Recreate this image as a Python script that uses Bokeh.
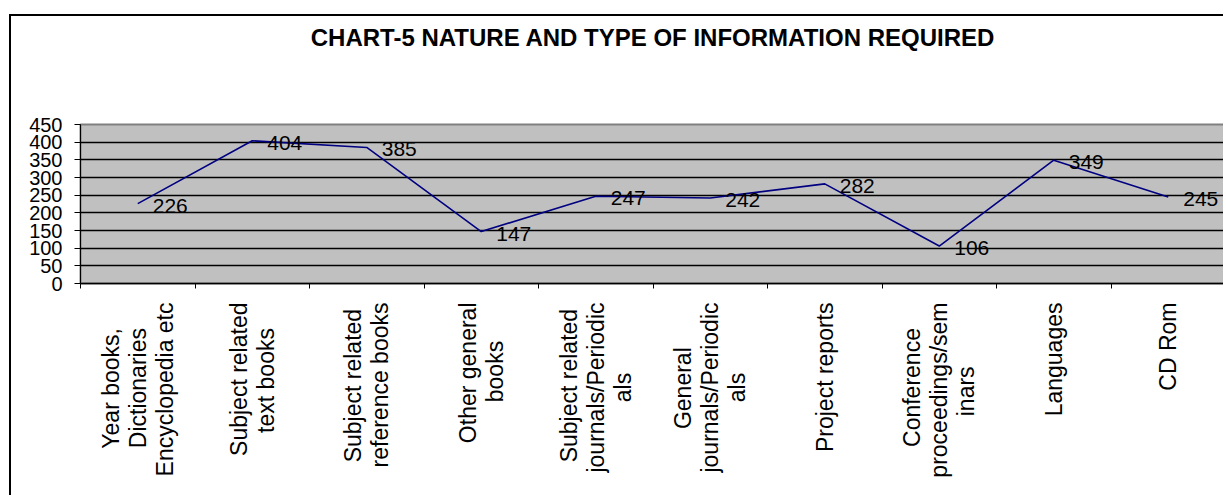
import math
from bokeh.plotting import figure
from bokeh.models import Range1d, FixedTicker, ColumnDataSource, LinearAxis
from bokeh.core.properties import value
from bokeh.embed import file_html
from bokeh.resources import INLINE

# ---- data ----
title_text = "CHART-5 NATURE AND TYPE OF INFORMATION REQUIRED"
categories = [
    "Year books,\nDictionaries\nEncyclopedia etc",
    "Subject related\ntext books",
    "Subject related\nreference books",
    "Other general\nbooks",
    "Subject related\njournals/Periodic\nals",
    "General\njournals/Periodic\nals",
    "Project reports",
    "Conference\nproceedings/sem\ninars",
    "Languages",
    "CD Rom",
]
counts = [226, 404, 385, 147, 247, 242, 282, 106, 349, 245]
y_ticks = [0, 50, 100, 150, 200, 250, 300, 350, 400, 450]

FONT = "Liberation Sans"
CAT_SIZE = 23

# Arial / Liberation Sans advance widths (1/1000 em), used to centre the
# lines of each rotated category label within its block
ADV = {' ': 278, ',': 278, '/': 278, 'a': 556, 'b': 556, 'c': 500, 'd': 556, 'e': 556,
       'f': 278, 'g': 556, 'h': 556, 'i': 222, 'j': 222, 'k': 500, 'l': 222, 'm': 833,
       'n': 556, 'o': 556, 'p': 556, 'q': 556, 'r': 333, 's': 500, 't': 278, 'u': 556,
       'v': 500, 'w': 722, 'x': 500, 'y': 500, 'z': 500, 'C': 722, 'D': 722, 'E': 667,
       'G': 778, 'L': 556, 'O': 778, 'P': 667, 'R': 722, 'S': 667, 'Y': 667}
NBSP = "\u00a0"


def centred(label):
    lines = label.split("\n")
    widths = [sum(ADV.get(ch, 556) for ch in ln) for ln in lines]
    wmax = max(widths)
    out = []
    for ln, w in zip(lines, widths):
        k = int(round((wmax - w) / 2 / ADV[' ']))
        out.append(ln + NBSP * k)
    return "\n".join(out)


n = len(categories)
xs = [i + 0.5 for i in range(n)]

p = figure(width=1214, height=481, output_backend="svg", toolbar_location=None,
           title_location=None,
           x_range=Range1d(0, n), y_range=Range1d(y_ticks[0], y_ticks[-1]),
           min_border_left=69, min_border_right=0, min_border_top=108,
           min_border_bottom=214,
           background_fill_color="#C0C0C0", border_fill_color="white",
           outline_line_color="#808080", outline_line_width=2)
p.margin = (14, 0, 0, 9)
p.styles = {"border-top": "2px solid black", "border-left": "2px solid black"}

# x axis: labels at category centres, tick marks (minor) at boundaries
xax = p.below[0]
xax.ticker = FixedTicker(ticks=xs, minor_ticks=list(range(n + 1)))
xax.major_label_overrides = {x: centred(c) for x, c in zip(xs, categories)}
xax.major_label_orientation = math.pi / 2
xax.major_tick_line_color = None
xax.major_tick_in = 0
xax.major_tick_out = 5
xax.major_label_standoff = 14
xax.minor_tick_in = 0
xax.minor_tick_out = 5
xax.minor_tick_line_color = "black"
xax.major_label_text_font = FONT
xax.major_label_text_font_size = f"{CAT_SIZE}px"
xax.major_label_text_line_height = 1.03
xax.major_label_text_color = "black"
xax.axis_line_color = "black"
xax.axis_line_width = 1.5

# chart title, carried by an empty axis above the frame
title_axis = LinearAxis(ticker=FixedTicker(ticks=[]), axis_line_color=None,
                        major_tick_line_color=None, minor_tick_line_color=None,
                        major_tick_in=0, major_tick_out=0, minor_tick_in=0,
                        minor_tick_out=0, major_label_standoff=0,
                        axis_label=title_text, axis_label_standoff=74,
                        axis_label_text_font=FONT, axis_label_text_font_size="24px",
                        axis_label_text_font_style="bold",
                        axis_label_text_color="black")
p.add_layout(title_axis, "above")

p.yaxis.ticker = FixedTicker(ticks=y_ticks)
p.yaxis.major_tick_in = 0
p.yaxis.major_tick_out = 6
p.yaxis.minor_tick_line_color = None
p.yaxis.major_label_standoff = 12
p.yaxis.major_label_text_font = FONT
p.yaxis.major_label_text_font_size = "20px"
p.yaxis.major_label_text_color = "black"
p.yaxis.axis_line_color = "black"
p.yaxis.major_tick_line_color = "black"

p.xgrid.grid_line_color = None
p.ygrid.ticker = FixedTicker(ticks=y_ticks)
p.ygrid.grid_line_color = "black"
p.ygrid.grid_line_width = 1.5

src = ColumnDataSource(dict(x=xs, y=counts, t=[str(v) for v in counts]))
p.line(x="x", y="y", source=src, line_color="#000080", line_width=1.6)
p.text(x="x", y="y", text="t", source=src, x_offset=15, y_offset=2,
       text_align="left", text_baseline="middle",
       text_font=value(FONT), text_font_size=value("21px"), text_color="black")

open("out.html", "w").write(file_html(p, INLINE))
